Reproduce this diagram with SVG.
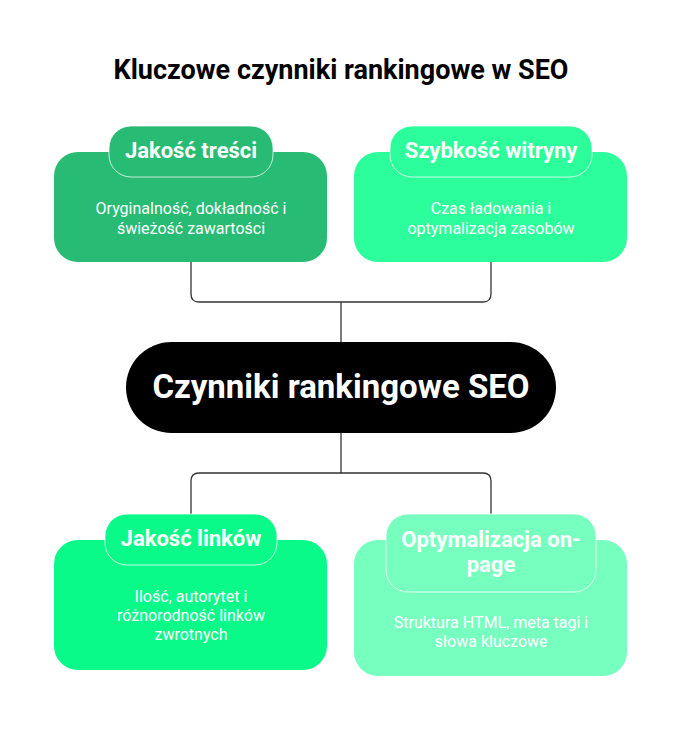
<svg xmlns="http://www.w3.org/2000/svg" width="682" height="730" viewBox="0 0 682 730">
<style>
.title{font-family:Roboto,"Liberation Sans",sans-serif;font-weight:700;font-size:27px;fill:#000;text-anchor:middle}
.head{font-family:Roboto,"Liberation Sans",sans-serif;font-weight:700;font-size:22px;fill:#fff;text-anchor:middle}
.body{font-family:Roboto,"Liberation Sans",sans-serif;font-weight:400;font-size:16px;fill:#fff;text-anchor:middle}
.center{font-family:Roboto,"Liberation Sans",sans-serif;font-weight:700;font-size:33px;fill:#fff;text-anchor:middle}
.pill{stroke:#fff;stroke-opacity:0.75;stroke-width:1}
.conn{fill:none;stroke:#333;stroke-width:1.3}
</style>
<rect width="682" height="730" fill="#fff"/>
<text class="title" x="341" y="79">Kluczowe czynniki rankingowe w SEO</text>
<g id="connectors">
<path class="conn" d="M191 262 V294 Q191 302 199 302 H483 Q491 302 491 294 V262"/>
<path class="conn" d="M341 302 V342"/>
<path class="conn" d="M341 433 V473"/>
<path class="conn" d="M191 514 V481 Q191 473 199 473 H483 Q491 473 491 481 V514"/>
</g>
<g id="node-jakosc-tresci">
<rect x="54" y="152" width="273" height="110" rx="24" fill="#27BB73"/>
<rect class="pill" x="109" y="126" width="164" height="51" rx="22" fill="#27BB73"/>
<text class="head" x="191" y="158">Jakość treści</text>
<text class="body" x="191" y="214">Oryginalność, dokładność i</text>
<text class="body" x="191" y="234">świeżość zawartości</text>
</g>
<g id="node-szybkosc">
<rect x="354" y="152" width="273" height="110" rx="24" fill="#2BFE9A"/>
<rect class="pill" x="390" y="126" width="202" height="51" rx="22" fill="#2BFE9A"/>
<text class="head" x="491" y="158">Szybkość witryny</text>
<text class="body" x="491" y="214">Czas ładowania i</text>
<text class="body" x="491" y="234">optymalizacja zasobów</text>
</g>
<g id="node-center">
<rect x="126" y="342" width="430" height="91" rx="45.5" fill="#000"/>
<text class="center" x="341" y="398">Czynniki rankingowe SEO</text>
</g>
<g id="node-linki">
<rect x="54" y="540" width="273" height="130" rx="24" fill="#0AFA8A"/>
<rect class="pill" x="105" y="514" width="172" height="51" rx="22" fill="#0AFA8A"/>
<text class="head" x="191" y="546">Jakość linków</text>
<text class="body" x="191" y="602">Ilość, autorytet i</text>
<text class="body" x="191" y="621">różnorodność linków</text>
<text class="body" x="191" y="640">zwrotnych</text>
</g>
<g id="node-onpage">
<rect x="354" y="540" width="273" height="136" rx="24" fill="#77FFC0"/>
<rect class="pill" x="386" y="514" width="210" height="78" rx="22" fill="#77FFC0"/>
<text class="head" x="491" y="547">Optymalizacja on-</text>
<text class="head" x="491" y="572">page</text>
<text class="body" x="491" y="628">Struktura HTML, meta tagi i</text>
<text class="body" x="491" y="647">słowa kluczowe</text>
</g>
</svg>
